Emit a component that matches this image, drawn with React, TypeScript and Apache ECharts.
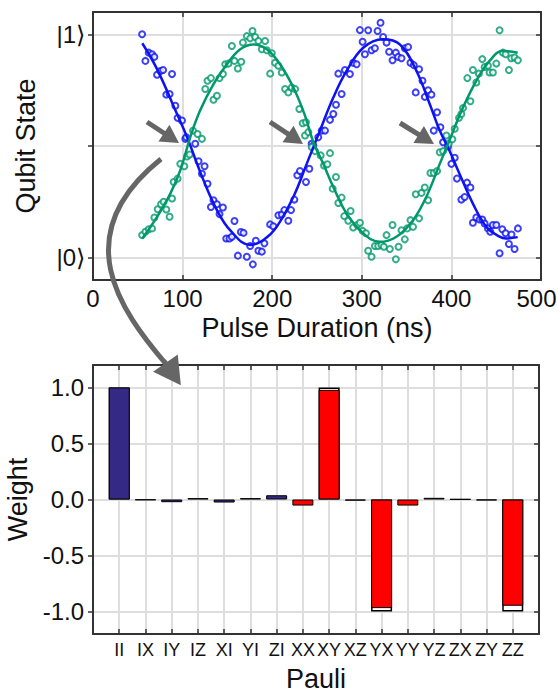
import React, { useEffect, useRef } from "react";
import * as echarts from "echarts";

// ---- Top panel: Rabi oscillation (x: pulse duration ns, y: population 0..1) ----
const blueFit: number[][] = [
  [55, 0.96], [71.5, 0.844], [93.8, 0.643], [104.9, 0.54], [123.4, 0.346], [138.3, 0.213],
  [153, 0.123], [175.4, 0.057], [190.2, 0.079], [205, 0.138], [223.6, 0.272], [238.5, 0.42],
  [253.3, 0.569], [268.2, 0.717], [283, 0.836], [301.6, 0.94], [323.5, 0.978], [342.4, 0.955],
  [361, 0.836], [375.8, 0.688], [387, 0.569], [397.8, 0.48], [409, 0.376], [424, 0.242],
  [439, 0.138], [453.8, 0.094], [461, 0.086], [474, 0.092],
];
const greenFit: number[][] = [
  [55, 0.086], [71.5, 0.183], [86.3, 0.287], [97.4, 0.391], [108.6, 0.54], [119.4, 0.658],
  [134.5, 0.777], [149.4, 0.866], [164.3, 0.933], [179, 0.955], [194, 0.933], [208.8, 0.866],
  [223.6, 0.762], [236, 0.643], [245.9, 0.518], [257, 0.42], [268.2, 0.316], [283, 0.198],
  [301.6, 0.109], [320, 0.071], [338.7, 0.094], [357.2, 0.168], [372, 0.272], [387, 0.42],
  [397.8, 0.525], [413, 0.673], [427.8, 0.792], [442.6, 0.881], [457.5, 0.926], [474, 0.918],
];
const blueDots: number[][] = [
  [54.8, 1.0], [58.5, 0.881], [62.2, 0.918], [65.9, 0.911], [68.5, 0.899], [71.5, 0.819], [75.2, 0.836],
  [78.2, 0.84], [81.8, 0.73], [85.5, 0.733], [88.2, 0.822], [91.9, 0.68], [94.4, 0.626], [99.3, 0.614],
  [103, 0.532], [104.1, 0.539], [114.1, 0.51], [117.8, 0.432], [121.6, 0.376], [124.5, 0.409],
  [127.8, 0.331], [131.6, 0.227], [134.5, 0.257], [138.3, 0.239], [141.2, 0.195], [145, 0.225],
  [148.7, 0.086], [152.3, 0.086], [155, 0.094], [157.9, 0.164], [161.7, 0.009], [165, 0.115],
  [168, 0.111], [171.7, 0.004], [175.4, 0.052], [178.4, -0.03], [181.7, 0.076], [184.6, 0.031],
  [188.4, 0.027], [191.3, 0.064], [197.7, 0.149], [201.3, 0.141], [206.9, 0.19], [210.7, 0.193],
  [213.6, 0.213], [218, 0.165], [221, 0.213], [224.7, 0.26], [228, 0.369], [231, 0.388],
  [237.7, 0.339], [241.4, 0.398], [244, 0.51], [245.9, 0.502], [251.4, 0.539], [255.2, 0.569],
  [258.9, 0.569], [264.5, 0.617], [268.2, 0.643], [271.2, 0.685], [273.8, 0.824], [277.5, 0.733],
  [281.2, 0.84], [286.7, 0.822], [290.4, 0.873], [294.2, 0.866], [297.9, 1.019], [300.9, 0.967],
  [303.5, 0.911], [307.1, 1.018], [310.9, 0.929], [314.6, 0.938], [317.6, 1.015], [320.9, 1.052],
  [323.8, 0.988], [327.6, 0.963], [330.5, 0.922], [334.3, 0.884], [338, 0.918], [340.5, 0.899],
  [344.3, 0.893], [348, 0.938], [351.7, 0.943], [354.3, 0.873], [358, 0.862], [360.2, 0.74],
  [363.9, 0.844], [367.7, 0.792], [370.3, 0.72], [374, 0.75], [377.7, 0.73], [380.3, 0.569],
  [384, 0.651], [387.7, 0.584], [390.7, 0.517], [396.2, 0.498], [400, 0.42], [403.7, 0.447],
  [406.2, 0.354], [411.1, 0.26], [414.8, 0.272], [417.4, 0.336], [421.2, 0.314], [424, 0.156],
  [427.8, 0.18], [431.5, 0.171], [434.5, 0.171], [437.1, 0.153], [440.8, 0.131], [443.4, 0.116],
  [446.3, 0.146], [450.1, 0.146], [453.8, 0.02], [456.8, 0.127], [460.5, 0.109], [464.2, 0.061],
  [467.1, 0.104], [470.5, 0.039], [474.2, 0.131],
];
const greenDots: number[][] = [
  [54.8, 0.101], [58.5, 0.116], [62.2, 0.127], [65.9, 0.131], [68.5, 0.18], [72.2, 0.217], [75.9, 0.239],
  [78.8, 0.25], [81.8, 0.216], [85.5, 0.183], [88.2, 0.265], [90, 0.339], [94.4, 0.354], [97.4, 0.42],
  [101.9, 0.409], [104.9, 0.453], [107.8, 0.462], [111.6, 0.569], [116.7, 0.554], [121.6, 0.532],
  [125.3, 0.755], [127.8, 0.792], [131.6, 0.804], [134.5, 0.707], [138.3, 0.725], [141.2, 0.804],
  [145, 0.822], [147.6, 0.866], [151.2, 0.869], [155, 0.948], [157.9, 0.881], [161.7, 0.847],
  [165.4, 0.877], [167.3, 0.963], [171.7, 0.992], [175.4, 0.982], [178, 1.015], [181, 0.988],
  [184.6, 0.97], [188.4, 0.933], [192.1, 0.97], [194, 0.929], [197.7, 0.824], [199.6, 0.915],
  [203.2, 0.873], [206.9, 0.859], [210.7, 0.829], [214.4, 0.755], [218, 0.74], [221.8, 0.762],
  [225.5, 0.755], [230.3, 0.666], [234, 0.602], [236.6, 0.547], [237.7, 0.606], [240.3, 0.562],
  [244, 0.495], [247.8, 0.477], [254.1, 0.458], [257.8, 0.413], [261.5, 0.418], [264.5, 0.468],
  [267.5, 0.309], [271.2, 0.361], [273.8, 0.245], [277.5, 0.269], [280.4, 0.186], [284.9, 0.165],
  [287.5, 0.209], [290.4, 0.135], [294.9, 0.146], [297.9, 0.156], [300.9, 0.12], [304.6, 0.109],
  [307.1, 0.031], [310.9, 0.004], [314.6, 0.052], [318.3, 0.052], [322, 0.057], [324.6, 0.049],
  [327.6, 0.101], [331.3, 0.039], [334.3, 0.146], [338, -0.007], [341, 0.049], [344.3, 0.123],
  [348, 0.082], [350.6, 0.131], [354.3, 0.168], [357.2, 0.138], [360.2, 0.284], [363.9, 0.176],
  [366.6, 0.29], [370.3, 0.314], [374, 0.257], [376.6, 0.379], [380.3, 0.379], [384, 0.388],
  [387, 0.472], [390.7, 0.477], [394.4, 0.547], [396.9, 0.51], [401.1, 0.53], [403.7, 0.577],
  [408.5, 0.626], [411.1, 0.643], [413, 0.67], [417.8, 0.804], [421.2, 0.7], [424, 0.84],
  [427.8, 0.784], [430.7, 0.824], [434.5, 0.889], [437.1, 0.854], [440.8, 0.859], [442.6, 0.829],
  [446.3, 0.829], [450.1, 0.869], [453.8, 1.018], [457.5, 0.918], [460.5, 0.911], [464.2, 0.84],
  [466.8, 0.893], [470.5, 0.896], [474.2, 0.884],
];
const stateTicks = [0, 0.5, 1];
const stateTickLabels = ["|0⟩", "", "|1⟩"];

// ---- Bottom panel: Pauli weights ----
const pauliLabels = ["II", "IX", "IY", "IZ", "XI", "YI", "ZI", "XX", "XY", "XZ", "YX", "YY", "YZ", "ZX", "ZY", "ZZ"];
const measuredWeights = [1.0, -0.005, -0.024, 0.012, -0.027, 0.012, 0.038, -0.054, 0.978, -0.01, -0.969, -0.054, 0.015, 0.003, -0.008, -0.948];
const idealWeights = [1, 0, 0, 0, 0, 0, 0, 0, 1, 0, -1, 0, 0, 0, 0, -1];
const singleQubitCount = 7; // first 7 terms drawn in navy, two-qubit terms in red
const weightTicks = [-1, -0.5, 0, 0.5, 1];

const FONT = "Liberation Sans, Arial, Helvetica, sans-serif";
const BLUE = "#0d12f2";
const GREEN = "#00986a";
const NAVY = "#342a86";
const RED = "#ff0000";
const FRAME = "#333333";
const GRID = "#dedede";
const ARROW = "#666666";

function arrowEls(x1: number, y1: number, x2: number, y2: number, headLen: number, halfW: number, width: number) {
  const dx = x2 - x1, dy = y2 - y1, L = Math.hypot(dx, dy);
  const ux = dx / L, uy = dy / L;
  const bx = x2 - ux * headLen, by = y2 - uy * headLen;
  const px = -uy, py = ux;
  return [
    { type: "polyline", z: 100, silent: true, shape: { points: [[x1, y1], [bx + ux * 3, by + uy * 3]] }, style: { stroke: ARROW, lineWidth: width, fill: null } },
    { type: "polygon", z: 100, silent: true, shape: { points: [[x2, y2], [bx + px * halfW, by + py * halfW], [bx - px * halfW, by - py * halfW]] }, style: { fill: ARROW } },
  ];
}

export default function App() {
  const ref = useRef<HTMLDivElement>(null);
  useEffect(() => {
    if (!ref.current) return;
    const chart = echarts.init(ref.current, null, { renderer: "svg" });

    const axisTickStyle = { color: FRAME, width: 1.5 };
    const axisLineStyle = { show: true, onZero: false, lineStyle: { color: FRAME, width: 2 } };
    const splitLine = { show: true, lineStyle: { color: GRID, width: 2 } };

    const curveEnd = [166, 364];
    const headDir = [0.571, 0.821];
    const curve = {
      type: "bezierCurve", z: 100, silent: true,
      shape: { x1: 161, y1: 159, cpx1: 66, cpy1: 235, cpx2: 120, cpy2: 310, x2: curveEnd[0], y2: curveEnd[1] },
      style: { stroke: ARROW, lineWidth: 5, fill: null },
    };
    const bigHead = arrowEls(curveEnd[0] - headDir[0] * 4, curveEnd[1] - headDir[1] * 4, curveEnd[0] + headDir[0] * 26, curveEnd[1] + headDir[1] * 26, 27, 15, 5);

    const option: any = {
      animation: false,
      backgroundColor: "#ffffff",
      textStyle: { fontFamily: FONT },
      grid: [
        { left: 93, top: 12, width: 448, height: 268, outerBoundsMode: "none", containLabel: false },
        { left: 93, top: 365, width: 446, height: 269, outerBoundsMode: "none", containLabel: false },
      ],
      xAxis: [
        {
          gridIndex: 0, type: "value", min: 0, max: 500, interval: 100, position: "bottom",
          axisLine: axisLineStyle, axisTick: { show: true, inside: true, length: 5, lineStyle: axisTickStyle },
          axisLabel: {
            fontSize: 24, color: "#111", margin: 6, fontFamily: FONT, showMinLabel: true, showMaxLabel: true,
            formatter: (v: number) => (v === 500 ? "{edge|500}" : String(v)),
            rich: { edge: { fontSize: 24, color: "#111", fontFamily: FONT, padding: [0, 9, 0, 0] } },
          },
          splitLine,
          name: "Pulse Duration (ns)", nameLocation: "middle", nameGap: 34,
          nameTextStyle: { fontSize: 27, color: "#111", fontFamily: FONT },
        },
        {
          gridIndex: 0, type: "value", min: 0, max: 500, interval: 100, position: "top",
          axisLine: axisLineStyle, axisTick: { show: true, inside: true, length: 5, lineStyle: axisTickStyle },
          axisLabel: { show: false }, splitLine: { show: false },
        },
        {
          gridIndex: 1, type: "value", min: 0, max: 17, interval: 1, position: "bottom",
          axisLine: axisLineStyle, axisTick: { show: true, inside: true, length: 5, lineStyle: axisTickStyle },
          axisLabel: {
            fontSize: 18, color: "#111", margin: 7, fontFamily: FONT,
            formatter: (v: number) => pauliLabels[Math.round(v) - 1] ?? "",
          },
          splitLine,
          name: "Pauli", nameLocation: "middle", nameGap: 31,
          nameTextStyle: { fontSize: 27, color: "#111", fontFamily: FONT },
        },
        {
          gridIndex: 1, type: "value", min: 0, max: 17, interval: 1, position: "top",
          axisLine: axisLineStyle, axisTick: { show: true, inside: true, length: 5, lineStyle: axisTickStyle },
          axisLabel: { show: false }, splitLine: { show: false },
        },
      ],
      yAxis: [
        {
          gridIndex: 0, type: "value", min: -0.1, max: 1.1, position: "left",
          axisLine: axisLineStyle,
          axisTick: { show: true, inside: false, length: 5, lineStyle: axisTickStyle, customValues: stateTicks },
          axisLabel: {
            fontSize: 24, color: "#111", margin: 8, fontFamily: FONT, customValues: stateTicks,
            formatter: (v: number) => {
              const i = stateTicks.findIndex((t) => Math.abs(t - v) < 1e-9);
              return i >= 0 ? stateTickLabels[i] : "";
            },
          },
          splitLine,
          name: "Qubit State", nameLocation: "middle", nameGap: 54,
          nameTextStyle: { fontSize: 27, color: "#111", fontFamily: FONT },
        },
        {
          gridIndex: 0, type: "value", min: -0.1, max: 1.1, position: "right",
          axisLine: axisLineStyle,
          axisTick: { show: true, inside: true, length: 5, lineStyle: axisTickStyle, customValues: stateTicks },
          axisLabel: { show: false, customValues: stateTicks }, splitLine: { show: false },
        },
        {
          gridIndex: 1, type: "value", min: -1.2, max: 1.2, position: "left",
          axisLine: axisLineStyle,
          axisTick: { show: true, inside: false, length: 5, lineStyle: axisTickStyle, customValues: weightTicks },
          axisLabel: {
            fontSize: 24, color: "#111", margin: 9, fontFamily: FONT, customValues: weightTicks,
            formatter: (v: number) => v.toFixed(1),
          },
          splitLine,
          name: "Weight", nameLocation: "middle", nameGap: 55,
          nameTextStyle: { fontSize: 27, color: "#111", fontFamily: FONT },
        },
        {
          gridIndex: 1, type: "value", min: -1.2, max: 1.2, position: "right",
          axisLine: axisLineStyle,
          axisTick: { show: true, inside: true, length: 5, lineStyle: axisTickStyle, customValues: weightTicks },
          axisLabel: { show: false, customValues: weightTicks }, splitLine: { show: false },
        },
      ],
      series: [
        {
          type: "scatter", xAxisIndex: 0, yAxisIndex: 0, data: blueDots, symbol: "emptyCircle", symbolSize: 6,
          itemStyle: { color: BLUE, borderColor: BLUE, borderWidth: 1.6 }, silent: true,
        },
        {
          type: "scatter", xAxisIndex: 0, yAxisIndex: 0, data: greenDots, symbol: "emptyCircle", symbolSize: 6,
          itemStyle: { color: GREEN, borderColor: GREEN, borderWidth: 1.6 }, silent: true,
        },
        {
          type: "line", xAxisIndex: 0, yAxisIndex: 0, data: blueFit, smooth: 0.4, showSymbol: false, symbol: "none",
          lineStyle: { color: BLUE, width: 2.5 }, silent: true,
        },
        {
          type: "line", xAxisIndex: 0, yAxisIndex: 0, data: greenFit, smooth: 0.4, showSymbol: false, symbol: "none",
          lineStyle: { color: GREEN, width: 2.5 }, silent: true,
        },
        {
          type: "bar", xAxisIndex: 2, yAxisIndex: 2, barWidth: 21, barGap: "-100%", silent: true,
          data: idealWeights.map((v, i) => [i + 1, v]).filter((d) => d[1] !== 0),
          itemStyle: { color: "#ffffff", borderColor: "#000000", borderWidth: 1.5 },
        },
        {
          type: "bar", xAxisIndex: 2, yAxisIndex: 2, barWidth: 21, barGap: "-100%", silent: true,
          data: measuredWeights.map((v, i) => ({
            value: [i + 1, v],
            itemStyle: { color: i < singleQubitCount ? NAVY : RED, borderColor: "#000000", borderWidth: 1 },
          })),
        },
      ],
      graphic: [
        ...arrowEls(147, 122, 179, 143, 18, 10, 5),
        ...arrowEls(270, 122, 303, 144, 18, 10, 5),
        ...arrowEls(400, 123, 434, 144, 18, 10, 5),
        curve,
        ...bigHead,
      ],
    };
    chart.setOption(option);
    return () => chart.dispose();
  }, []);
  return (
    <div
      ref={ref}
      style={{ position: "fixed", left: 0, top: 0, width: 558, height: 694, background: "#fff" }}
    />
  );
}
